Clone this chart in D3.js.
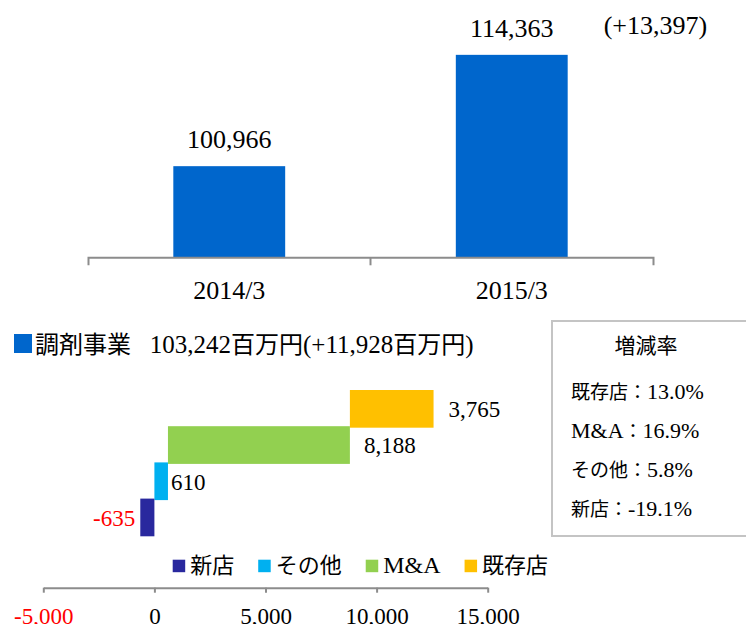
<!DOCTYPE html>
<html>
<head>
<meta charset="utf-8">
<script src="https://cdn.jsdelivr.net/npm/d3@7"></script>
<style>
  body { margin: 0; background: #fff; }
  svg { display: block; }
  text { white-space: pre; }
</style>
</head>
<body>
<div id="chart"></div>
<script>
// sales comparison (top) + breakdown of the increase (bottom)
const years = ['2014/3', '2015/3'];
const sales = [100966, 114363];

const segName = '調剤事業';
const segTotal = 103242, segDiff = 11928;

const parts = ['既存店', 'M&A', 'その他', '新店'];      // top to bottom
const partValues = [3765, 8188, 610, -635];
const legendOrder = ['新店', 'その他', 'M&A', '既存店'];
const xTicks = [-5000, 0, 5000, 10000, 15000];

const rateTitle = '増減率';
const rateNames = ['既存店', 'M&A', 'その他', '新店'];
const rates = [13.0, 16.9, 5.8, -19.1];

const W = 746, H = 624;
const SERIF = '"Liberation Serif", "Times New Roman", serif';
const CJK = '"Noto Sans CJK JP", "Noto Sans CJK SC", sans-serif';
const AXIS_GREY = '#8c8c8c';
const BLUE = '#0066cc';
const partColor = new Map([
  ['新店', '#29289e'], ['その他', '#00b0f0'], ['M&A', '#92d050'], ['既存店', '#ffc000']
]);

const svg = d3.select('#chart').append('svg').attr('width', W).attr('height', H);
svg.append('rect').attr('width', W).attr('height', H).attr('fill', '#fff');

// writes a string as tspans: CJK runs in the sans CJK face, the rest in the serif face
function richText(sel, str, cjkSize, latSize) {
  const re = /[\u3000-\u30ff\u4e00-\u9fff\uff00-\uffef]+/g;
  let last = 0, m;
  const runs = [];
  while ((m = re.exec(str)) !== null) {
    if (m.index > last) runs.push([str.slice(last, m.index), false]);
    runs.push([m[0], true]);
    last = m.index + m[0].length;
  }
  if (last < str.length) runs.push([str.slice(last), false]);
  runs.forEach(([t, cjk]) => {
    sel.append('tspan')
      .attr('font-family', cjk ? CJK : SERIF)
      .attr('font-size', cjk ? cjkSize : latSize)
      .text(t);
  });
  return sel;
}

// ---------- top: two-year bars ----------
const xTop = d3.scaleBand().domain(years).range([88, 653]).padding(0);
const yTop = d3.scaleLinear().domain([90000, 120000]).range([257.3, 8]);
const barW = xTop.bandwidth() * 0.396;

const topG = svg.append('g');
topG.selectAll('rect.bar').data(years).join('rect')
  .attr('class', 'bar')
  .attr('x', d => xTop(d) + xTop.bandwidth() / 2 - barW / 2)
  .attr('width', barW)
  .attr('y', (d, i) => yTop(sales[i]))
  .attr('height', (d, i) => yTop.range()[0] - yTop(sales[i]))
  .attr('fill', BLUE);

topG.selectAll('text.val').data(years).join('text')
  .attr('class', 'val')
  .attr('x', d => xTop(d) + xTop.bandwidth() / 2)
  .attr('y', (d, i) => yTop(sales[i]) - 18)
  .attr('text-anchor', 'middle')
  .attr('font-family', SERIF).attr('font-size', 26)
  .text((d, i) => d3.format(',')(sales[i]));

topG.append('text')
  .attr('x', xTop(years[1]) + xTop.bandwidth() / 2 + barW / 2 + 36)
  .attr('y', yTop(sales[1]) - 21)
  .attr('font-family', SERIF).attr('font-size', 26)
  .text(`(${d3.format('+,')(sales[1] - sales[0])})`);

const xTopAxis = topG.append('g')
  .attr('transform', `translate(0,${yTop.range()[0]})`)
  .call(d3.axisBottom(xTop).tickSizeInner(0).tickSizeOuter(8).tickPadding(23));
xTopAxis.append('line')
  .attr('x1', xTop(years[1])).attr('x2', xTop(years[1]))
  .attr('y1', 0).attr('y2', 8);
xTopAxis.select('.domain').attr('stroke', AXIS_GREY).attr('stroke-width', 2);
xTopAxis.selectAll('line').attr('stroke', AXIS_GREY).attr('stroke-width', 2);
xTopAxis.selectAll('text')
  .attr('font-family', SERIF).attr('font-size', 26).attr('fill', '#000');

// ---------- segment title ----------
svg.append('rect')
  .attr('x', 14).attr('y', 334).attr('width', 18).attr('height', 19)
  .attr('fill', BLUE);
richText(svg.append('text').attr('x', 35).attr('y', 353),
  `${segName}   ${d3.format(',')(segTotal)}百万円(${d3.format('+,')(segDiff)}百万円)`, 24, 25);

// ---------- bottom: waterfall of the increase ----------
const xW = d3.scaleLinear().domain([-5000, 15000]).range([43.3, 487.7]);
const yW = d3.scaleBand().domain(parts).range([390, 390 + 4 * 36.2]).padding(0);

// bars build up from the bottom row; a negative one hangs left of zero
const spans = new Map();
let run = 0;
for (let i = parts.length - 1; i >= 0; i--) {
  const v = partValues[i];
  if (v < 0) spans.set(parts[i], [v, 0]);
  else { spans.set(parts[i], [run, run + v]); run += v; }
}

const wf = svg.append('g');
wf.selectAll('rect').data(parts).join('rect')
  .attr('x', d => xW(spans.get(d)[0]))
  .attr('width', d => xW(spans.get(d)[1]) - xW(spans.get(d)[0]))
  .attr('y', d => yW(d))
  .attr('height', yW.bandwidth() + 1.5)
  .attr('fill', d => partColor.get(d));

const labelDx = [15, 14, 3, -5];
wf.selectAll('text').data(parts).join('text')
  .attr('x', (d, i) => partValues[i] < 0 ? xW(spans.get(d)[0]) + labelDx[i] : xW(spans.get(d)[1]) + labelDx[i])
  .attr('y', d => yW(d) + yW.bandwidth() / 2 + 9)
  .attr('text-anchor', (d, i) => partValues[i] < 0 ? 'end' : 'start')
  .attr('font-family', SERIF).attr('font-size', 23)
  .attr('fill', (d, i) => partValues[i] < 0 ? '#ff0000' : '#000')
  .text((d, i) => d3.format(',')(partValues[i]).replace('−', '-'));

// legend
const leg = svg.append('g');
let lx = 172.7;
legendOrder.forEach(name => {
  leg.append('rect')
    .attr('x', lx).attr('y', 559.7).attr('width', 12.5).attr('height', 12.5)
    .attr('fill', partColor.get(name));
  const t = richText(leg.append('text').attr('x', lx + 17.5).attr('y', 573), name, 22, 24);
  lx += 17.5 + t.node().getComputedTextLength() + 24;
});

const fmtTick = d => (d < 0 ? '-' : '') + d3.format(',')(Math.abs(d));
const xWAxis = svg.append('g')
  .attr('transform', 'translate(0,587.7)')
  .call(d3.axisBottom(xW).tickValues(xTicks).tickFormat(fmtTick)
    .tickSizeInner(5).tickSizeOuter(0).tickPadding(15));
xWAxis.select('.domain').attr('stroke', AXIS_GREY).attr('stroke-width', 2);
xWAxis.selectAll('line').attr('stroke', AXIS_GREY).attr('stroke-width', 2);
xWAxis.selectAll('text')
  .attr('font-family', SERIF).attr('font-size', 23)
  .attr('fill', d => d < 0 ? '#ff0000' : '#000');

// ---------- growth-rate box ----------
const box = svg.append('g');
box.append('rect')
  .attr('x', 552).attr('y', 321).attr('width', 220).attr('height', 215)
  .attr('fill', '#fff').attr('stroke', '#c4c4c4').attr('stroke-width', 2);
box.append('text')
  .attr('x', 646).attr('y', 353).attr('text-anchor', 'middle')
  .attr('font-family', CJK).attr('font-size', 21)
  .text(rateTitle);
rateNames.forEach((n, i) => {
  richText(box.append('text').attr('x', 571).attr('y', 399 + i * 39.1),
    `${n}：${d3.format('.1f')(rates[i]).replace('−', '-')}%`, 19, 22);
});
</script>
</body>
</html>
